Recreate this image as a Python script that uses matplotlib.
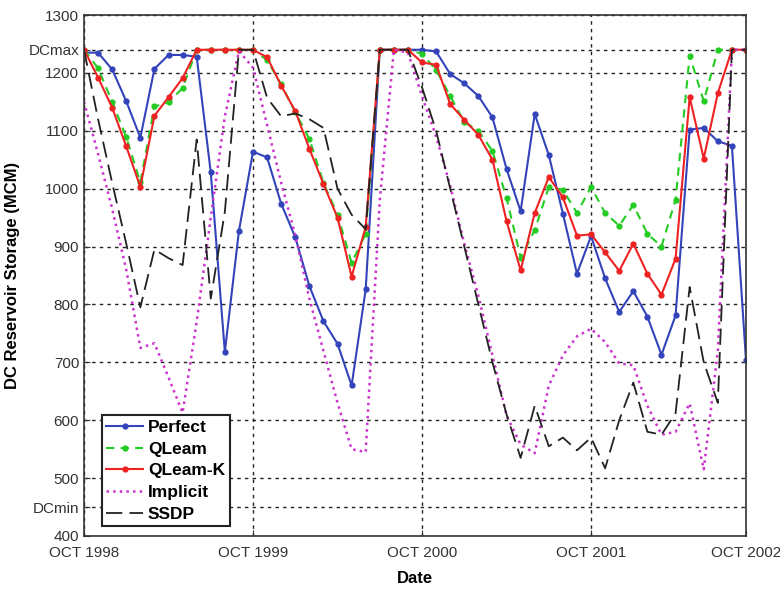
import numpy as np
import matplotlib
matplotlib.use('Agg')
import matplotlib.pyplot as plt

plt.rcParams['font.family'] = ['Liberation Sans', 'DejaVu Sans']

# monthly storage values, Oct 1998 .. Oct 2002 (48 points)
perfect = [1235, 1235, 1206, 1151, 1088, 1207, 1231, 1231, 1228, 1028, 718, 927,
           1064, 1054, 974, 916, 832, 771, 732, 660, 826, 1240, 1240, 1240,
           1240, 1237, 1198, 1182, 1160, 1123, 1034, 961, 1129, 1058, 957, 853,
           918, 845, 787, 823, 779, 713, 781, 1102, 1105, 1082, 1074, 704]
qlearn = [1240, 1208, 1150, 1089, 1011, 1142, 1149, 1174, 1240, 1240, 1240, 1240,
          1240, 1222, 1180, 1132, 1086, 1010, 955, 872, 922, 1240, 1240, 1240,
          1233, 1205, 1160, 1115, 1100, 1065, 984, 881, 928, 1003, 998, 958,
          1003, 958, 936, 972, 922, 900, 981, 1230, 1151, 1240, 1240, 1240]
qlearn_k = [1240, 1192, 1140, 1073, 1003, 1126, 1158, 1191, 1240, 1240, 1240, 1240,
            1240, 1227, 1178, 1134, 1069, 1008, 950, 848, 934, 1240, 1240, 1240,
            1218, 1214, 1146, 1119, 1093, 1050, 944, 859, 958, 1020, 985, 919,
            921, 890, 858, 905, 853, 817, 879, 1158, 1052, 1165, 1240, 1240]
implicit = [1150, 1060, 965, 860, 725, 733, 674, 613, 770, 950, 1125, 1238,
            1209, 1110, 1010, 920, 810, 720, 630, 550, 545, 980, 1240, 1235,
            1160, 1090, 1005, 905, 815, 712, 608, 558, 543, 660, 712, 745,
            758, 735, 698, 695, 625, 575, 580, 629, 515, 720, 1240, 1240]
ssdp = [1240, 1120, 1010, 905, 795, 895, 880, 868, 1085, 810, 960, 1240,
        1240, 1157, 1125, 1130, 1120, 1105, 1000, 955, 930, 1240, 1240, 1240,
        1175, 1100, 1000, 900, 800, 700, 610, 535, 625, 555, 570, 548,
        570, 517, 600, 665, 580, 575, 612, 830, 700, 630, 1240, 1240]

x_labels = ['OCT 1998', 'OCT 1999', 'OCT 2000', 'OCT 2001', 'OCT 2002']
x_ticks = [0, 12, 24, 36, 47]
dc_min = 450
dc_max = 1240

months = np.arange(len(perfect))

fig = plt.figure(figsize=(7.8, 5.89), dpi=100)
ax = fig.add_axes([0.1077, 0.09, 0.8487, 0.8845])

ax.plot(months, perfect, color='#3344bb', lw=1.5, marker='o', ms=3.5, label='Perfect')
ax.plot(months, qlearn, color='#22cc22', lw=1.5, ls='--', dashes=(4, 3),
        marker='o', ms=3.5, label='QLeam')
ax.plot(months, qlearn_k, color='#ee2222', lw=1.5, marker='o', ms=3.5, label='QLeam-K')
ax.plot(months, implicit, color='#cc33cc', lw=1.8, ls=':', label='Implicit')
ax.plot(months, ssdp, color='#222222', lw=1.3, ls='--', dashes=(9, 4), label='SSDP')

yt = [400, dc_min, 500, 600, 700, 800, 900, 1000, 1100, 1200, dc_max, 1300]
ytl = ['400', 'DCmin', '500', '600', '700', '800', '900', '1000', '1100', '1200', 'DCmax', '1300']
ax.set_yticks(yt)
ax.set_yticklabels(ytl)
ax.set_xticks(x_ticks)
ax.set_xticklabels(x_labels)
ax.set_xlim(0, 47)
ax.set_ylim(400, 1300)
ax.tick_params(labelsize=11, colors='#333333', direction='in', length=4)
ax.tick_params(axis='x', pad=7)
ax.grid(True, color='#222222', ls=(0, (2.5, 3)), lw=1.0)

ax.set_xlabel('Date', fontsize=12, fontweight='bold', labelpad=8)
ax.set_ylabel('DC Reservoir Storage (MCM)', fontsize=12, fontweight='bold', labelpad=6)

leg = ax.legend(loc='lower left', bbox_to_anchor=(0.022, 0.012),
                prop={'weight': 'bold', 'size': 12.5}, fancybox=False,
                edgecolor='#222222', framealpha=1, handlelength=2.1,
                borderpad=0.25, labelspacing=0.38, handletextpad=0.3,
                borderaxespad=0.2)
leg.get_frame().set_linewidth(1.5)

for s in ax.spines.values():
    s.set_color('#333333')
    s.set_linewidth(1.2)

plt.savefig('out.png', dpi=100)
